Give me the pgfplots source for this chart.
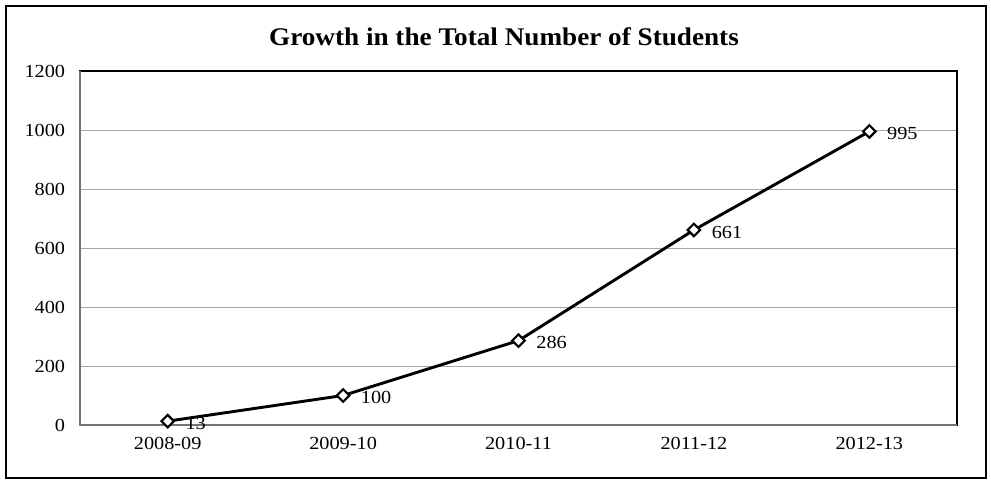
\documentclass[border=0pt]{standalone}
\usepackage{pgfplots}
\pgfplotsset{compat=1.18}
\usepackage{fontspec}
\setmainfont{Liberation Serif}
\begin{document}
\begin{tikzpicture}[x=1bp,y=1bp]
\useasboundingbox (0,0) rectangle (991,480);
\draw[line width=2bp, black] (6,2) rectangle (986,474);
\node[anchor=base, inner sep=0pt, font=\fontsize{25.5}{28}\selectfont\bfseries, xscale=1.07] at (504,434) {Growth in the Total Number of Students};
\begin{axis}[
  at={(80bp,55bp)}, anchor=south west,
  scale only axis, width=877bp, height=354bp,
  xmin=-0.5, xmax=4.5, ymin=0, ymax=1200,
  xtick={0,1,2,3,4},
  xticklabels={2008-09,2009-10,2010-11,2011-12,2012-13},
  ytick={0,200,400,600,800,1000,1200},
  yticklabel style={/pgf/number format/1000 sep={}, xshift=-10bp},
  ymajorgrids, grid style={gray!70, line width=0.8bp},
  major tick length=0pt,
  axis line style={line width=2.6bp},
  tick label style={font=\fontsize{18.5}{20}\selectfont, xscale=1.1},
  /pgf/number format/assume math mode=true,
  xticklabel style={yshift=-9bp},
  clip=false,
]
\addplot[line width=2.9bp, black, mark=square*, mark size=4.4bp,
  mark options={fill=white, line width=2.2bp, rotate=45},
  nodes near coords, point meta=explicit symbolic,
  every node near coord/.append style={anchor=west, xshift=13bp, yshift=-2bp, font=\fontsize{18.5}{20}\selectfont, xscale=1.1, black}]
  table[meta=lab] {
x y lab
0 13 13
1 100 100
2 286 286
3 661 661
4 995 995
};
\draw[line width=2.6bp, black!55] (rel axis cs:0,1) -- (rel axis cs:0,0) -- (rel axis cs:1,0);
\end{axis}
\end{tikzpicture}
\end{document}
